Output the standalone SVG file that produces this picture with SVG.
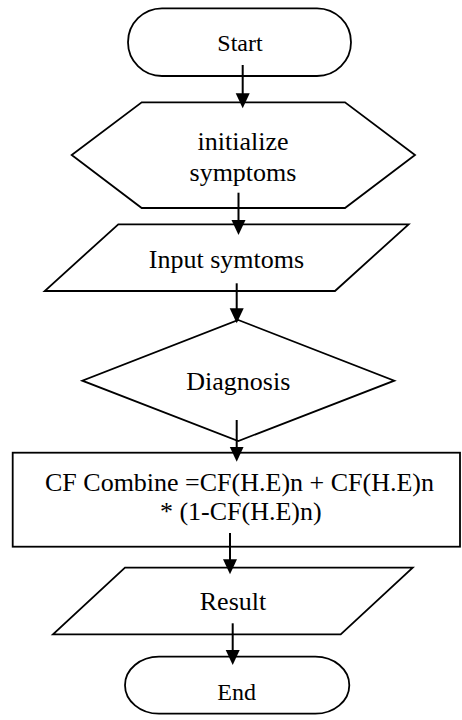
<svg xmlns="http://www.w3.org/2000/svg" width="462" height="720" viewBox="0 0 462 720">
<style>
.s{fill:#fff;stroke:#000;stroke-width:1.8;stroke-linejoin:miter}
.t{font-family:"Liberation Serif","Times New Roman",serif;font-size:26px;fill:#000;text-anchor:middle}
.ts{font-size:24px}
.c line{stroke:#000;stroke-width:2}
</style>
<defs>
<marker id="ah" markerUnits="userSpaceOnUse" markerWidth="16" markerHeight="15" refX="5" refY="7" orient="auto">
<path d="M0,0 L15,7 L0,14 Z" fill="#000"/>
</marker>
</defs>
<rect width="462" height="720" fill="#fff"/>
<g id="start">
<rect class="s" x="128" y="8.3" width="223" height="67.7" rx="34" ry="34"/>
<text class="t ts" x="240" y="50.7">Start</text>
</g>
<g id="init">
<polygon class="s" points="141.7,102.3 345,102.3 415,155 345,208 141.7,208 71.7,155"/>
<text class="t" x="243" y="150">initialize</text>
<text class="t" x="243" y="181">symptoms</text>
</g>
<g id="input">
<polygon class="s" points="118.3,224.3 408.6,224.3 335,291 44.7,291"/>
<text class="t" x="226.5" y="268.3">Input symtoms</text>
</g>
<g id="diagnosis">
<polygon class="s" points="238.3,320 394.3,380.7 238.3,441 82.3,380.7"/>
<text class="t" x="238.3" y="390">Diagnosis</text>
</g>
<g id="combine">
<rect class="s" x="12.7" y="452.7" width="447.3" height="94"/>
<text class="t" x="239.5" y="491">CF Combine =CF(H.E)n + CF(H.E)n</text>
<text class="t" x="240.8" y="519.5">* (1-CF(H.E)n)</text>
</g>
<g id="result">
<polygon class="s" points="125,567.7 412.7,567.7 340.7,634.3 53,634.3"/>
<text class="t" x="233" y="610">Result</text>
</g>
<g id="end">
<rect class="s" x="125" y="656.7" width="224.3" height="57" rx="34" ry="28.5"/>
<text class="t ts" x="236.7" y="700">End</text>
</g>
<g id="connectors" class="c">
<line x1="242.7" y1="65" x2="242.7" y2="98.3" marker-end="url(#ah)"/>
<line x1="238.5" y1="192.7" x2="238.5" y2="225" marker-end="url(#ah)"/>
<line x1="236.7" y1="283.3" x2="236.7" y2="313.3" marker-end="url(#ah)"/>
<line x1="236.7" y1="420" x2="236.7" y2="451.7" marker-end="url(#ah)"/>
<line x1="230" y1="533" x2="230" y2="564.3" marker-end="url(#ah)"/>
<line x1="232.7" y1="623.3" x2="232.7" y2="655" marker-end="url(#ah)"/>
</g>
</svg>
